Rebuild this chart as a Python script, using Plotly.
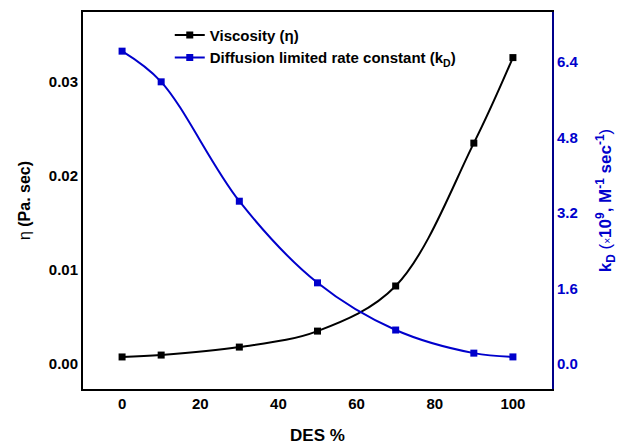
import plotly.graph_objects as go

des = [0, 10, 30, 50, 70, 90, 100]
viscosity = [0.00075, 0.00095, 0.0018, 0.0035, 0.0083, 0.0235, 0.0326]
kd = [6.63, 5.98, 3.45, 1.72, 0.72, 0.23, 0.15]
x_ticks = [0, 20, 40, 60, 80, 100]
y_ticks = [0, 0.01, 0.02, 0.03]
y_ticklabels = ["0.00", "0.01", "0.02", "0.03"]
y2_ticks = [0, 1.6, 3.2, 4.8, 6.4]
y2_ticklabels = ["0.0", "1.6", "3.2", "4.8", "6.4"]

font_fam = "Liberation Sans, Arial, sans-serif"
blue = "#0000cc"
navy = "#00008b"

fig = go.Figure()
fig.add_trace(go.Scatter(
    x=des, y=viscosity, mode="lines+markers", name="Viscosity (η)",
    line=dict(color="black", width=2, shape="spline"),
    marker=dict(symbol="square", size=7, color="black"),
))
fig.add_trace(go.Scatter(
    x=des, y=kd, mode="lines+markers", name="Diffusion limited rate constant (k<sub>D</sub>)",
    line=dict(color=blue, width=2, shape="spline"),
    marker=dict(symbol="square", size=7, color=blue), yaxis="y2",
))

fig.update_layout(
    width=622, height=448,
    margin=dict(l=83, r=70, t=12, b=59),
    plot_bgcolor="white", paper_bgcolor="white",
    font=dict(family=font_fam, size=15, color="black"),
    showlegend=True,
    legend=dict(x=0.185, y=0.982, xanchor="left", yanchor="top", bgcolor="rgba(0,0,0,0)",
                font=dict(size=15, weight="bold"), tracegroupgap=0, itemwidth=30),
    xaxis=dict(range=[-10, 110], tickvals=x_ticks, ticktext=[str(v) for v in x_ticks],
               automargin=False,
               showgrid=False, zeroline=False, showline=True, linecolor="black", linewidth=2,
               mirror=True, ticks="", tickfont=dict(size=15, color="black", weight="bold"),
               title=dict(text="DES %", font=dict(size=17, weight="bold"), standoff=18)),
    yaxis=dict(range=[-0.00266, 0.03745], tickvals=y_ticks, ticktext=y_ticklabels,
               automargin=False,
               showgrid=False, zeroline=False, showline=True, linecolor="black", linewidth=2,
               ticks="", tickfont=dict(size=15, color="black", weight="bold"),
               title=dict(text="η <b>(Pa. sec)</b>", font=dict(size=16), standoff=14)),
    yaxis2=dict(range=[-0.53, 7.46], tickvals=y2_ticks, ticktext=y2_ticklabels,
                overlaying="y", side="right", showgrid=False, zeroline=False,
                automargin=False,
                showline=True, linecolor=navy, linewidth=2, ticks="",
                tickfont=dict(size=15, color=blue, weight="bold"),
                title=dict(text="<b>k<sub>D</sub></b> (<span style='font-size:10px'>×</span><b>10<sup>9</sup>, M<sup>-1</sup> sec<sup>-1</sup></b>)",
                           font=dict(size=17, color=blue), standoff=22)),
)
fig.write_html("out.html")
